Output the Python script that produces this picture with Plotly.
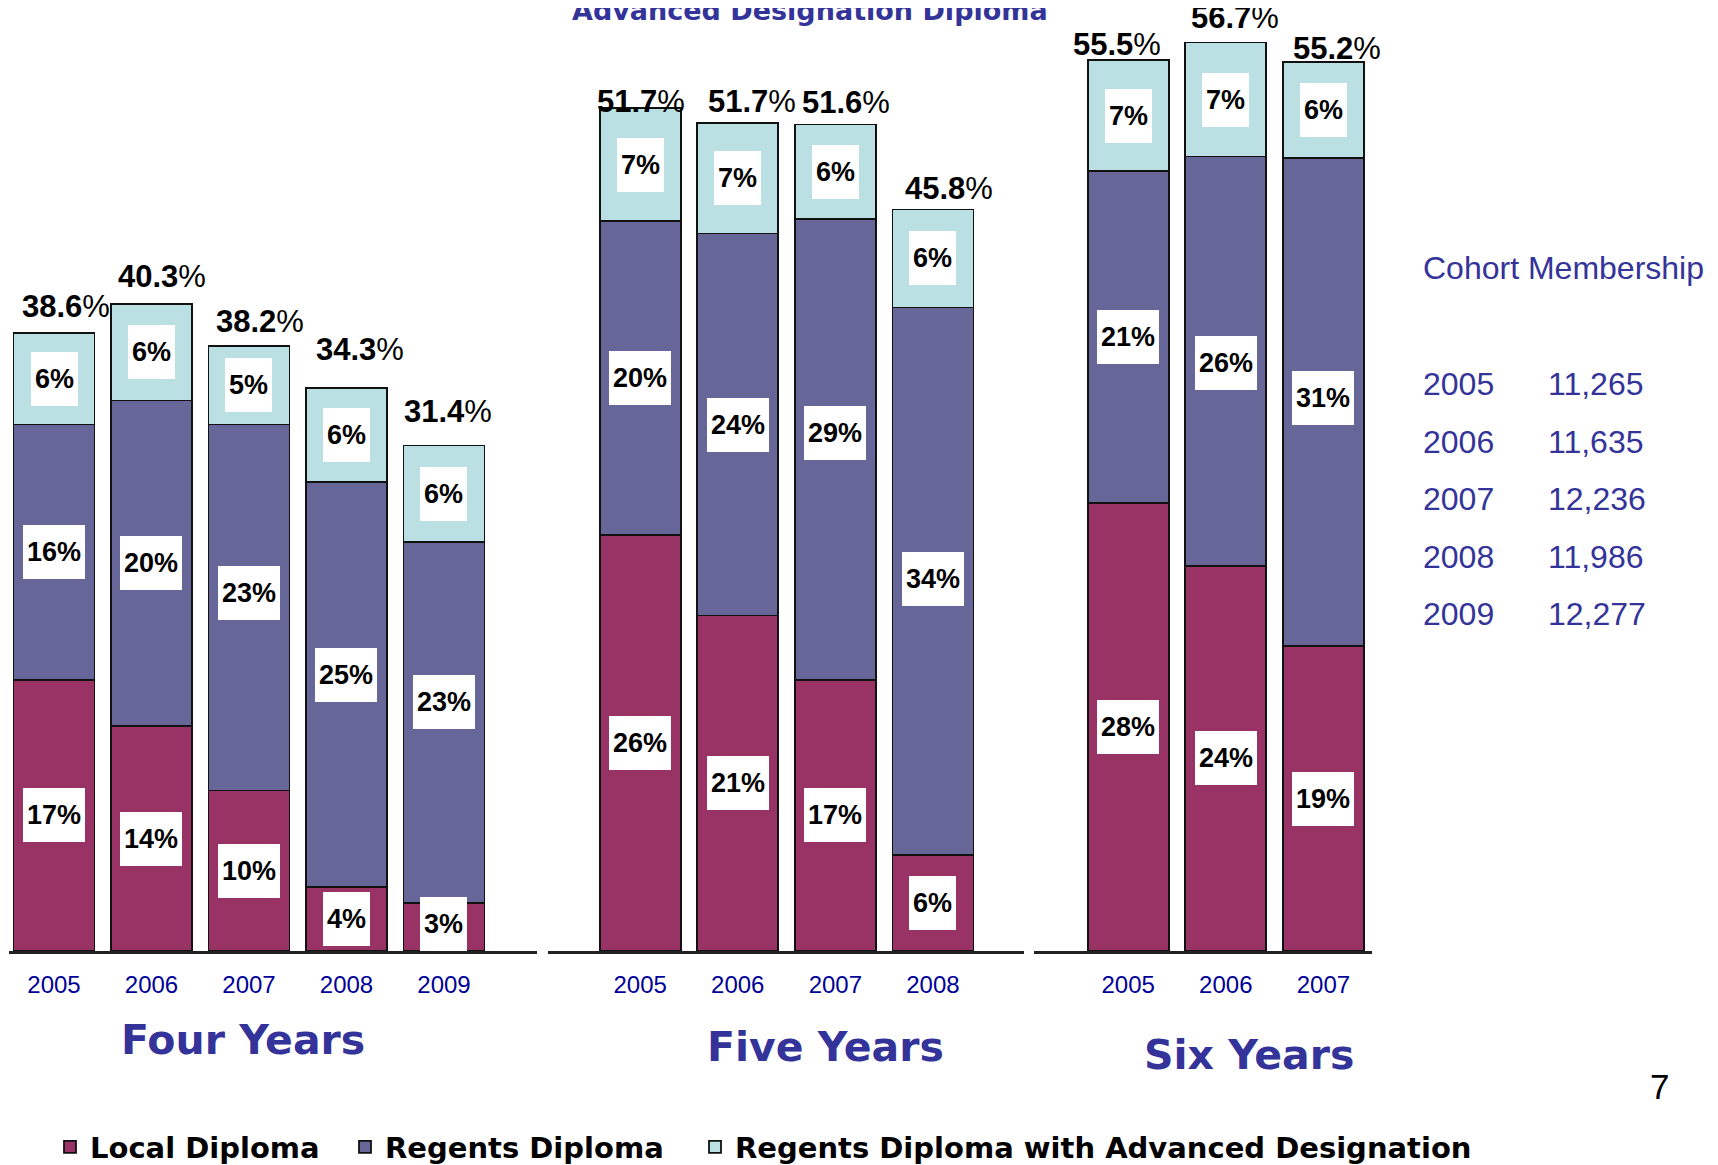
import plotly.graph_objects as go

# ---------------- data ----------------
four_years = ["2005", "2006", "2007", "2008", "2009"]
four_local = [16.9, 14.0, 10.0, 4.0, 3.0]
four_regents = [15.9, 20.3, 22.8, 25.2, 22.5]
four_advanced = [5.7, 6.0, 4.9, 5.9, 6.0]
four_local_labels = ["17%", "14%", "10%", "4%", "3%"]
four_regents_labels = ["16%", "20%", "23%", "25%", "23%"]
four_advanced_labels = ["6%", "6%", "5%", "6%", "6%"]
four_totals = ["38.6", "40.3", "38.2", "34.3", "31.4"]

five_years = ["2005", "2006", "2007", "2008"]
five_local = [25.9, 20.9, 16.9, 6.0]
five_regents = [19.6, 23.8, 28.7, 34.1]
five_advanced = [7.0, 6.9, 5.9, 6.1]
five_local_labels = ["26%", "21%", "17%", "6%"]
five_regents_labels = ["20%", "24%", "29%", "34%"]
five_advanced_labels = ["7%", "7%", "6%", "6%"]
five_totals = ["51.7", "51.7", "51.6", "45.8"]

six_years = ["2005", "2006", "2007"]
six_local = [27.9, 24.0, 19.0]
six_regents = [20.7, 25.5, 30.4]
six_advanced = [6.9, 7.1, 6.0]
six_local_labels = ["28%", "24%", "19%"]
six_regents_labels = ["21%", "26%", "31%"]
six_advanced_labels = ["7%", "7%", "6%"]
six_totals = ["55.5", "56.7", "55.2"]

series_names = ["Local Diploma", "Regents Diploma", "Regents Diploma with Advanced Designation"]
group_titles = ["Four Years", "Five Years", "Six Years"]
chart_title = "Advanced Designation Diploma"

cohort_title = "Cohort Membership"
cohort_years = ["2005", "2006", "2007", "2008", "2009"]
cohort_counts = [11265, 11635, 12236, 11986, 12277]
page_number = "7"

# ---------------- styling / layout ----------------
W, H = 1718, 1165
OFF = 8                # page body margin compensation
COLORS = ["#993366", "#666699", "#BBE0E3"]
NAVY = "#333399"
TICK_NAVY = "#000099"
ARIAL = "Liberation Sans, Arial, sans-serif"
WIDE = "DejaVu Sans, Verdana, sans-serif"
BASE_PX = 951          # baseline pixel row (page coords)
PX_PER_UNIT = 16.05    # pixels per percentage point


def px_x(x):
    return (x - OFF) / W


def px_y(y):
    return 1 - (y - OFF) / H


groups = [
    dict(years=four_years, series=[four_local, four_regents, four_advanced],
         labels=[four_local_labels, four_regents_labels, four_advanced_labels],
         totals=four_totals, dom=(9, 537), rng=(-0.4615, 4.954),
         tdx=[12, 11, 11.5, 13.5, 4], tdy=[27, 27.5, 24, 38, 34],
         rshift=[0, 0, 15, 10, 20], lshift=[0, 0, 0, 0, 3], title_xy=(243, 1040)),
    dict(years=five_years, series=[five_local, five_regents, five_advanced],
         labels=[five_local_labels, five_regents_labels, five_advanced_labels],
         totals=five_totals, dom=(548, 1024), rng=(-0.944, 3.933),
         tdx=[1, 14.5, 11, 16], tdy=[6.5, 21, 22, 20.5],
         rshift=[0, 0, 16, 2], lshift=[0, 0, 0, 0], title_xy=(825, 1047)),
    dict(years=six_years, series=[six_local, six_regents, six_advanced],
         labels=[six_local_labels, six_regents_labels, six_advanced_labels],
         totals=six_totals, dom=(1034, 1372), rng=(-0.964, 2.497),
         tdx=[-11, 9.5, 13.5], tdy=[16, 25, 13.5],
         rshift=[0, -2, 4], lshift=[0, 0, 0], title_xy=(1249, 1055)),
]

legend_names = ["legend", "legend2", "legend3"]
legend_text_x = [91, 386, 736]

fig = go.Figure()
annotations = []
y_top = (BASE_PX - OFF) / PX_PER_UNIT

for gi, g in enumerate(groups):
    sfx = "" if gi == 0 else str(gi + 1)
    xa, ya = "x" + sfx, "y" + sfx
    idx = list(range(len(g["years"])))
    for si, vals in enumerate(g["series"]):
        fig.add_trace(go.Bar(
            x=idx, y=vals, name=series_names[si],
            marker=dict(color=COLORS[si], line=dict(color="#111111", width=1.8)),
            xaxis=xa, yaxis=ya, showlegend=(gi == 0), legend=legend_names[si],
            legendgroup=series_names[si], hoverinfo="skip",
        ))
    # inner value labels
    for i in idx:
        base = 0.0
        for si, vals in enumerate(g["series"]):
            lbl = g["labels"][si][i]
            shift = g["rshift"][i] if si == 1 else (g["lshift"][i] if si == 0 else 0)
            annotations.append(dict(
                x=i, y=base + vals[i] / 2, xref=xa, yref=ya, text="<b>%s</b>" % lbl,
                showarrow=False, font=dict(family=ARIAL, size=27, color="black"),
                bgcolor="white", borderpad=0, borderwidth=0,
                width=47 if len(lbl) == 2 else 62, height=54, yshift=shift,
            ))
            base += vals[i]
        # totals
        annotations.append(dict(
            x=i, y=base, xref=xa, yref=ya, text="<b>%s</b>%%" % g["totals"][i],
            showarrow=False, yanchor="middle", xshift=g["tdx"][i], yshift=g["tdy"][i],
            font=dict(family=ARIAL, size=31, color="black"),
        ))
    # group title
    tx, ty = g["title_xy"]
    annotations.append(dict(
        x=px_x(tx), y=px_y(ty), xref="paper", yref="paper", text="<b>%s</b>" % group_titles[gi],
        showarrow=False, xanchor="center", yanchor="middle",
        font=dict(family=WIDE, size=41, color=NAVY),
    ))
    fig.layout["xaxis" + sfx] = dict(
        domain=[px_x(g["dom"][0]), px_x(g["dom"][1])], range=list(g["rng"]),
        type="linear", tickvals=idx, ticktext=g["years"], anchor=ya,
        showline=True, linecolor="#222222", linewidth=2.5,
        ticks="", ticklabelstandoff=10, showgrid=False, zeroline=False,
        tickfont=dict(family=ARIAL, size=24, color=TICK_NAVY), fixedrange=True,
    )
    fig.layout["yaxis" + sfx] = dict(
        domain=[px_y(BASE_PX), 1.0], range=[0, y_top], anchor=xa,
        visible=False, fixedrange=True, showgrid=False, zeroline=False,
    )

# chart title (cut off at top)
annotations.append(dict(
    x=px_x(810), y=px_y(28), xref="paper", yref="paper", text="<b>%s</b>" % chart_title,
    showarrow=False, xanchor="center", yanchor="bottom",
    font=dict(family=WIDE, size=27, color=NAVY),
))

# cohort membership block
annotations.append(dict(
    x=px_x(1421), y=px_y(268), xref="paper", yref="paper", text=cohort_title,
    showarrow=False, xanchor="left", yanchor="middle",
    font=dict(family=ARIAL, size=32, color=NAVY),
))
row_y = [383.5, 441.6, 498.5, 556.6, 613.6]
for yr, cnt, ry in zip(cohort_years, cohort_counts, row_y):
    annotations.append(dict(
        x=px_x(1421), y=px_y(ry), xref="paper", yref="paper", text=yr,
        showarrow=False, xanchor="left", yanchor="middle",
        font=dict(family=ARIAL, size=32, color=NAVY),
    ))
    annotations.append(dict(
        x=px_x(1546), y=px_y(ry), xref="paper", yref="paper", text=f"{cnt:,}",
        showarrow=False, xanchor="left", yanchor="middle",
        font=dict(family=ARIAL, size=32, color=NAVY),
    ))

# page number
annotations.append(dict(
    x=px_x(1659), y=px_y(1086), xref="paper", yref="paper", text=page_number,
    showarrow=False, xanchor="center", yanchor="middle",
    font=dict(family=ARIAL, size=35, color="black"),
))

legend_common = dict(
    orientation="h", xanchor="left", yanchor="middle", y=px_y(1147),
    font=dict(family=WIDE, size=29, color="black", weight="bold"),
    bgcolor="rgba(0,0,0,0)", borderwidth=0,
)

fig.update_layout(
    width=W, height=H, margin=dict(l=0, r=0, t=0, b=0),
    paper_bgcolor="white", plot_bgcolor="white",
    barmode="stack", bargap=0.17,
    annotations=annotations,
    showlegend=True,
    legend=dict(x=px_x(legend_text_x[0] - 41), **legend_common),
    legend2=dict(x=px_x(legend_text_x[1] - 41), **legend_common),
    legend3=dict(x=px_x(legend_text_x[2] - 41), **legend_common),
)

fig.write_html("out.html")
